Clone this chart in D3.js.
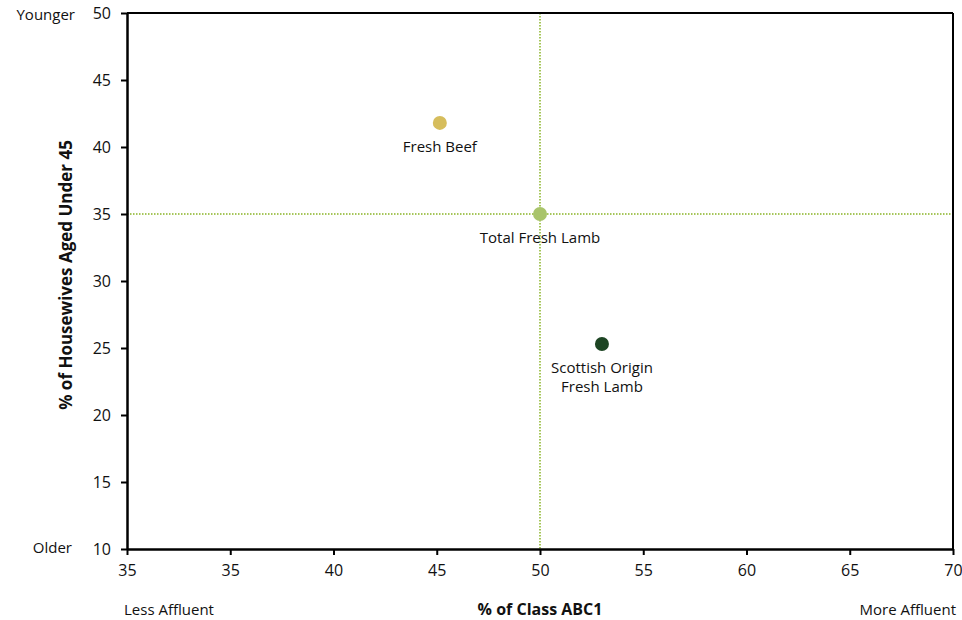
<!DOCTYPE html>
<html>
<head>
<meta charset="utf-8">
<script src="https://cdn.jsdelivr.net/npm/d3@7"></script>
<style>
  html, body { margin: 0; padding: 0; background: #fff; }
  svg text { font-family: "Open Sans", Lato, sans-serif; fill: #111; }
</style>
</head>
<body>
<svg id="chart" width="962" height="620"></svg>
<script>
// Product positioning: affluence (x) vs. age profile (y)
const products = ["Fresh Beef", "Total Fresh Lamb", "Scottish Origin Fresh Lamb"];
const labelLines = [["Fresh Beef"], ["Total Fresh Lamb"], ["Scottish Origin", "Fresh Lamb"]];
const pctClassABC1 = [45.15, 50, 53.0];
const pctUnder45 = [41.8, 35, 25.3];
const pointColors = ["#d6bd5c", "#a9c46b", "#1d4523"];

// Average lines (Total Fresh Lamb)
const avgX = 50;
const avgY = 35;

const xTickValues = [30, 35, 40, 45, 50, 55, 60, 65, 70];
const xTickLabels = ["35", "35", "40", "45", "50", "55", "60", "65", "70"];
const yTickValues = [10, 15, 20, 25, 30, 35, 40, 45, 50];

const svg = d3.select("#chart");
const plotLeft = 127, plotRight = 953, plotTop = 13, plotBottom = 549;

const x = d3.scaleLinear().domain([30, 70]).range([plotLeft, plotRight]);
const y = d3.scaleLinear().domain([10, 50]).range([plotBottom, plotTop]);

// Reference lines
const refColor = "#a6c65a";
svg.append("line")
  .attr("x1", x(avgX)).attr("x2", x(avgX))
  .attr("y1", y(50)).attr("y2", y(10))
  .attr("stroke", refColor).attr("stroke-width", 2)
  .attr("stroke-dasharray", "1.5,1.5");
svg.append("line")
  .attr("x1", x(30)).attr("x2", x(70))
  .attr("y1", y(avgY)).attr("y2", y(avgY))
  .attr("stroke", refColor).attr("stroke-width", 2)
  .attr("stroke-dasharray", "1.5,1.5");

// Frame top and right
svg.append("line").attr("x1", plotLeft).attr("x2", plotRight).attr("y1", plotTop).attr("y2", plotTop)
  .attr("stroke", "#000").attr("stroke-width", 2);
svg.append("line").attr("x1", plotRight).attr("x2", plotRight).attr("y1", plotTop).attr("y2", plotBottom)
  .attr("stroke", "#000").attr("stroke-width", 2);

// Axes
const xAxis = d3.axisBottom(x)
  .tickValues(xTickValues)
  .tickFormat((d, i) => xTickLabels[i])
  .tickSizeOuter(0).tickSizeInner(6).tickPadding(5);
const gx = svg.append("g").attr("transform", `translate(0,${plotBottom})`).call(xAxis);

const yAxis = d3.axisLeft(y)
  .tickValues(yTickValues)
  .tickFormat(d3.format("d"))
  .tickSizeOuter(0).tickSizeInner(6).tickPadding(10);
const gy = svg.append("g").attr("transform", `translate(${plotLeft},0)`).call(yAxis);

[gx, gy].forEach(g => {
  g.select(".domain").attr("stroke", "#000").attr("stroke-width", 2.5);
  g.selectAll(".tick line").attr("stroke", "#000").attr("stroke-width", 2);
  g.selectAll(".tick text").attr("font-size", 16).attr("fill", "#111")
    .style("font-family", "'Open Sans', Lato, sans-serif");
});
gx.selectAll(".tick text").attr("dy", "1.0em");

// Points
const data = products.map((p, i) => ({
  name: p, lines: labelLines[i], xv: pctClassABC1[i], yv: pctUnder45[i], color: pointColors[i]
}));

svg.selectAll("circle.pt").data(data).join("circle")
  .attr("class", "pt")
  .attr("cx", d => x(d.xv)).attr("cy", d => y(d.yv))
  .attr("r", 7).attr("fill", d => d.color);

const labels = svg.selectAll("text.lbl").data(data).join("text")
  .attr("class", "lbl")
  .attr("text-anchor", "middle")
  .attr("font-size", 15)
  .attr("x", d => x(d.xv))
  .attr("y", d => y(d.yv) + 29);
labels.selectAll("tspan").data(d => d.lines.map(l => ({ l, cx: x(d.xv) }))).join("tspan")
  .attr("x", t => t.cx)
  .attr("dy", (t, i) => i === 0 ? 0 : 19)
  .text(t => t.l);

// Axis titles and end annotations
svg.append("text").attr("x", 540).attr("y", 615).attr("text-anchor", "middle")
  .attr("font-size", 16).attr("font-weight", "bold").text("% of Class ABC1");
svg.append("text").attr("transform", `translate(72,275) rotate(-90)`)
  .attr("text-anchor", "middle").attr("font-size", 17).attr("font-weight", "bold")
  .text("% of Housewives Aged Under 45");
svg.append("text").attr("x", 124).attr("y", 615).attr("font-size", 15).text("Less Affluent");
svg.append("text").attr("x", 956).attr("y", 615).attr("text-anchor", "end").attr("font-size", 15).text("More Affluent");
svg.append("text").attr("x", 75).attr("y", 20).attr("text-anchor", "end").attr("font-size", 15).text("Younger");
svg.append("text").attr("x", 72).attr("y", 553).attr("text-anchor", "end").attr("font-size", 15).text("Older");
</script>
</body>
</html>
